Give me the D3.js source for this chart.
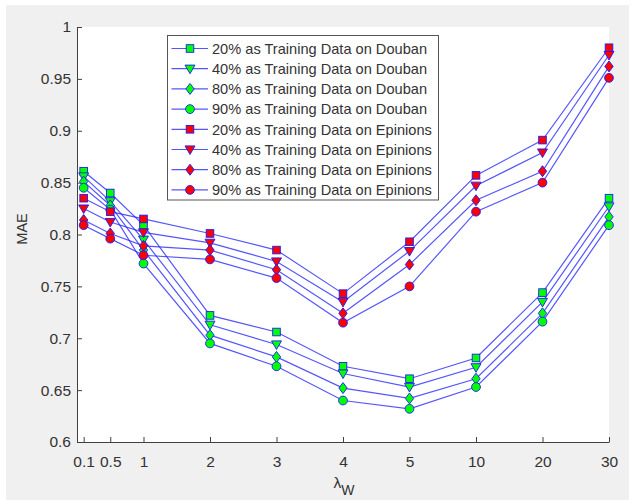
<!DOCTYPE html>
<html><head><meta charset="utf-8">
<script src="https://cdn.jsdelivr.net/npm/d3@7"></script>
<style>html,body{margin:0;padding:0;background:#fff;}svg{display:block;font-family:"Liberation Sans",Arial,sans-serif;}</style>
</head><body>
<svg id="c" width="632" height="500"></svg>
<script>
const xLabels = ["0.1","0.5","1","2","3","4","5","10","20","30"];
const xValues = [0.1,0.5,1,2,3,4,5,6,7,8];
const yTicks = [0.6,0.65,0.7,0.75,0.8,0.85,0.9,0.95,1];
const douban20 = [0.861,0.840,0.809,0.722,0.706,0.673,0.661,0.681,0.744,0.835];
const douban40 = [0.856,0.832,0.795,0.713,0.694,0.666,0.653,0.672,0.735,0.827];
const douban80 = [0.851,0.828,0.785,0.703,0.682,0.652,0.642,0.661,0.724,0.817];
const douban90 = [0.845,0.824,0.772,0.695,0.673,0.640,0.632,0.653,0.716,0.809];
const epinions20 = [0.835,0.822,0.815,0.801,0.785,0.743,0.793,0.857,0.891,0.980];
const epinions40 = [0.825,0.812,0.802,0.792,0.774,0.735,0.784,0.847,0.879,0.973];
const epinions80 = [0.814,0.801,0.789,0.785,0.766,0.724,0.771,0.833,0.861,0.962];
const epinions90 = [0.809,0.796,0.780,0.776,0.758,0.715,0.750,0.822,0.850,0.951];
const seriesNames = ["20% as Training Data on Douban","40% as Training Data on Douban","80% as Training Data on Douban","90% as Training Data on Douban","20% as Training Data on Epinions","40% as Training Data on Epinions","80% as Training Data on Epinions","90% as Training Data on Epinions"];
const seriesValues = [douban20,douban40,douban80,douban90,epinions20,epinions40,epinions80,epinions90];
const seriesFill = ["#00ff00","#00ff00","#00ff00","#00ff00","#ff0000","#ff0000","#ff0000","#ff0000"];
const seriesMarker = ["square","tridown","diamond","circle","square","tridown","diamond","circle"];

const svg = d3.select("#c");
svg.append("rect").attr("x",6).attr("y",5).attr("width",623).attr("height",495).attr("fill","#f0f0f0");
const L=77, T=27, R=609, B=442;
const x = d3.scaleLinear().domain([0,8]).range([L,R]);
const y = d3.scaleLinear().domain([0.6,1]).range([B,T]);
svg.append("rect").attr("x",L).attr("y",T).attr("width",R-L).attr("height",B-T).attr("fill","#fff");

const axCol = "#404040";
const fs = 15.5;
const xa = svg.append("g").attr("transform",`translate(0,${B})`)
  .call(d3.axisBottom(x).tickValues(xValues).tickFormat((d,i)=>xLabels[i]).tickSizeInner(-5).tickSizeOuter(0).tickPadding(14));
const ya = svg.append("g").attr("transform",`translate(${L},0)`)
  .call(d3.axisLeft(y).tickValues(yTicks).tickFormat(d3.format("")).tickSizeInner(-5).tickSizeOuter(0).tickPadding(6));
[xa,ya].forEach(g=>{
  g.select(".domain").attr("stroke",axCol).attr("stroke-width",1);
  g.selectAll(".tick line").attr("stroke",axCol);
  g.selectAll(".tick text").attr("fill","#333").attr("font-size",fs).attr("font-family","'Liberation Sans',Arial,sans-serif");
});

function marker(g, type, cx, cy, fill){
  let p;
  if(type==="square") p = g.append("rect").attr("x",cx-3.8).attr("y",cy-3.8).attr("width",7.6).attr("height",7.6);
  else if(type==="circle") p = g.append("circle").attr("cx",cx).attr("cy",cy).attr("r",4.4);
  else if(type==="diamond") p = g.append("path").attr("d",`M${cx},${cy-5.5}L${cx+4.2},${cy}L${cx},${cy+5.5}L${cx-4.2},${cy}Z`);
  else p = g.append("path").attr("d",`M${cx-5},${cy-3.6}L${cx+5},${cy-3.6}L${cx},${cy+5}Z`);
  p.attr("fill",fill).attr("stroke","#1a1aff").attr("stroke-width",0.9);
}

const line = d3.line().x((d,i)=>x(xValues[i])).y(d=>y(d));
const plot = svg.append("g");
seriesValues.forEach((vals,s)=>{
  const g = plot.append("g");
  g.append("path").datum(vals).attr("d",line).attr("fill","none").attr("stroke","#2a2aff").attr("stroke-opacity",0.8).attr("stroke-width",1.2);
  vals.forEach((v,i)=>marker(g,seriesMarker[s],x(xValues[i]),y(v),seriesFill[s]));
});

// legend
const lg = svg.append("g");
lg.append("rect").attr("x",167.5).attr("y",35.5).attr("width",271).attr("height",164.5).attr("fill","#fff").attr("stroke","#555").attr("stroke-width",1);
seriesNames.forEach((n,i)=>{
  const yy = 48.5 + i*20.2;
  lg.append("line").attr("x1",171.5).attr("x2",208).attr("y1",yy).attr("y2",yy).attr("stroke","#2a2aff").attr("stroke-opacity",0.8).attr("stroke-width",1.2);
  marker(lg, seriesMarker[i], 190, yy, seriesFill[i]);
  lg.append("text").attr("x",212).attr("y",yy).attr("dy","0.36em").attr("font-size",14.6).attr("fill","#333").text(n);
});

// axis labels
svg.append("text").attr("transform","translate(27,229) rotate(-90)").attr("text-anchor","middle").attr("font-size",14.5).attr("fill","#333").text("MAE");
const xl = svg.append("text").attr("x",344).attr("y",488).attr("text-anchor","middle").attr("font-size",15.5).attr("fill","#333");
xl.append("tspan").text("λ");
xl.append("tspan").attr("font-size",14).attr("dy",7).text("W");
</script>
</body></html>
